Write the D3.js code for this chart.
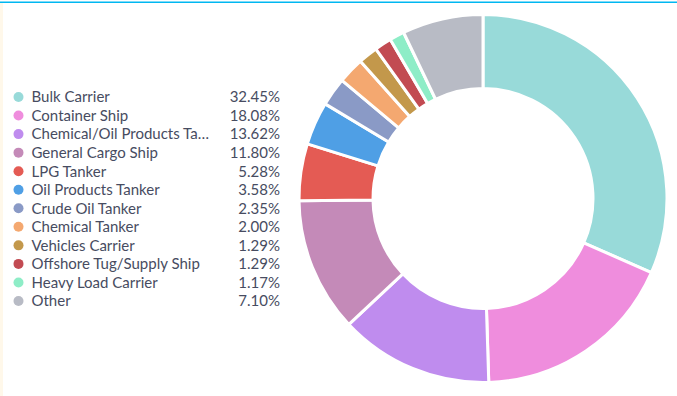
<!DOCTYPE html>
<html>
<head>
<meta charset="utf-8">
<script src="https://cdn.jsdelivr.net/npm/d3@7"></script>
<style>
  html, body { margin: 0; padding: 0; background: #fff; }
  body { width: 677px; height: 396px; overflow: hidden; }
  text { font-family: Lato, "Open Sans", sans-serif; }
</style>
</head>
<body>
<svg id="chart" width="677" height="396"></svg>
<script>
// ship types share
var categories = ["Bulk Carrier", "Container Ship", "Chemical/Oil Products Tanker", "General Cargo Ship",
  "LPG Tanker", "Oil Products Tanker", "Crude Oil Tanker", "Chemical Tanker", "Vehicles Carrier",
  "Offshore Tug/Supply Ship", "Heavy Load Carrier", "Other"];
var labels = ["Bulk Carrier", "Container Ship", "Chemical/Oil Products Ta\u2026", "General Cargo Ship",
  "LPG Tanker", "Oil Products Tanker", "Crude Oil Tanker", "Chemical Tanker", "Vehicles Carrier",
  "Offshore Tug/Supply Ship", "Heavy Load Carrier", "Other"];
// percentages as printed in the legend
var shares = [32.45, 18.08, 13.62, 11.80, 5.28, 3.58, 2.35, 2.00, 1.29, 1.29, 1.17, 7.10];
// slice sizes as drawn in the donut (small slices come out a bit wider)
var sliceShares = [31.6, 17.9, 13.5, 11.8, 5.0, 3.8, 2.5, 2.3, 1.7, 1.5, 1.3, 7.1];
var colors = ["#98dad9", "#ef8ddd", "#bf8cee", "#c48ab8", "#e45b54", "#4f9fe5",
  "#8a9ac6", "#f4a870", "#c3984b", "#c24b52", "#8eedc7", "#b8bbc5"];

var svg = d3.select("#chart");

// frame bits: top line and left strip
svg.append("rect").attr("x", 0).attr("y", 3).attr("width", 3).attr("height", 393).attr("fill", "#fff8ea");
svg.append("rect").attr("x", 0).attr("y", 1.5).attr("width", 677).attr("height", 1.5).attr("fill", "#00b7f1");

var color = d3.scaleOrdinal().domain(categories).range(colors);

var data = categories.map(function(c, i){
  return {name: c, label: labels[i], value: shares[i], slice: sliceShares[i]};
});

var pie = d3.pie().sort(null).value(function(d){ return d.slice; });
var arc = d3.arc().innerRadius(110).outerRadius(184);

var g = svg.append("g").attr("transform", "translate(483,198.5)");
g.selectAll("path").data(pie(data)).enter().append("path")
  .attr("d", arc)
  .attr("fill", function(d){ return color(d.data.name); })
  .attr("stroke", "#fff")
  .attr("stroke-width", 3)
  .attr("stroke-linejoin", "round");

// legend
var y = d3.scalePoint().domain(categories).range([97, 301]);
var leg = svg.append("g");
var rows = leg.selectAll("g").data(data).enter().append("g")
  .attr("transform", function(d){ return "translate(0," + y(d.name) + ")"; });

rows.append("circle").attr("cx", 18.5).attr("cy", 0).attr("r", 5)
  .attr("fill", function(d){ return color(d.name); });
rows.append("text").attr("x", 31.5).attr("dy", "0.36em")
  .attr("font-size", 15).attr("fill", "#474c61")
  .text(function(d){ return d.label; });
rows.append("text").attr("x", 280).attr("dy", "0.36em").attr("text-anchor", "end")
  .attr("font-size", 15).attr("fill", "#474c61")
  .text(function(d){ return d.value.toFixed(2) + "%"; });
</script>
</body>
</html>
